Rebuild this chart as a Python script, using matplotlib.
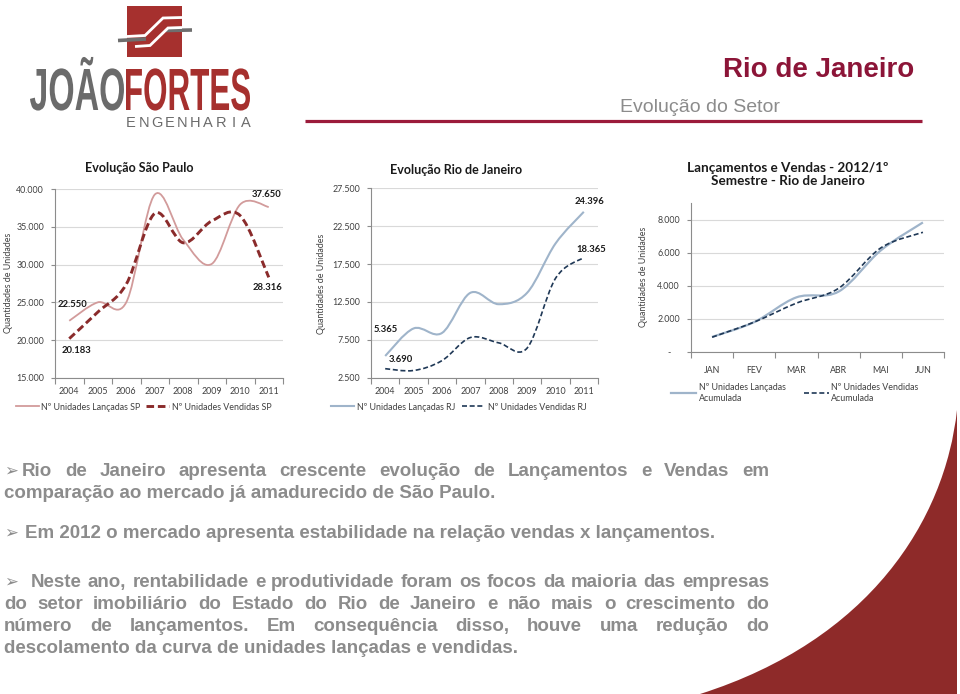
import matplotlib
matplotlib.use("Agg")
import matplotlib.pyplot as plt
import numpy as np
from matplotlib.path import Path
from matplotlib.patches import PathPatch, Rectangle
from matplotlib.lines import Line2D
from matplotlib.textpath import TextPath
from matplotlib.font_manager import FontProperties

# ---------------- data ----------------
years = ['2004', '2005', '2006', '2007', '2008', '2009', '2010', '2011']
sp_lancadas = [22550, 25000, 25000, 39300, 33300, 30100, 38000, 37650]
sp_vendidas = [20183, 23700, 27400, 36800, 32900, 35800, 36500, 28316]
rj_lancadas = [5365, 9000, 8400, 13700, 12200, 13700, 20200, 24396]
rj_vendidas = [3690, 3450, 4750, 7800, 7100, 6400, 15600, 18365]
months = ['JAN', 'FEV', 'MAR', 'ABR', 'MAI', 'JUN']
rj12_lancadas = [900, 1800, 3300, 3650, 6150, 7850]
rj12_vendidas = [880, 1800, 2950, 3850, 6300, 7250]

sp_yticks = [15000, 20000, 25000, 30000, 35000, 40000]
rj_yticks = [2500, 7500, 12500, 17500, 22500, 27500]
rj12_yticks = [0, 2000, 4000, 6000, 8000]

title_main = 'Rio de Janeiro'
subtitle = 'Evolução do Setor'
chart_titles = ['Evolução São Paulo', 'Evolução Rio de Janeiro',
                'Lançamentos e Vendas - 2012/1º\nSemestre - Rio de Janeiro']
ylabel = 'Quantidades de Unidades'
legend_sp = ['Nº Unidades Lançadas SP', 'Nº Unidades Vendidas SP']
legend_rj = ['Nº Unidades Lançadas RJ', 'Nº Unidades Vendidas RJ']
legend_12 = ['Nº Unidades Lançadas\nAcumulada', 'Nº Unidades Vendidas\nAcumulada']

paragraphs = [
    [("Rio de Janeiro apresenta crescente evolução de Lançamentos e Vendas em", True, 22, 476),
     ("comparação ao mercado já amadurecido de São Paulo.", False, 4, 497.5)],
    [("Em 2012 o mercado apresenta estabilidade na relação vendas x lançamentos.", False, 25, 538)],
    [("Neste ano, rentabilidade e produtividade foram os focos da maioria das empresas", True, 31, 587),
     ("do setor imobiliário do Estado do Rio de Janeiro e não mais o crescimento do", True, 4, 609),
     ("número de lançamentos. Em consequência disso, houve uma redução do", True, 4, 631),
     ("descolamento da curva de unidades lançadas e vendidas.", False, 4, 653)],
]

# ---------------- setup ----------------
W, H = 960, 694
plt.rcParams['font.family'] = ['Lato', 'DejaVu Sans']
fig = plt.figure(figsize=(W / 100, H / 100), dpi=100)
fig.patch.set_facecolor('white')
renderer = fig.canvas.get_renderer()


def rect(x0, y0, x1, y1):
    return [x0 / W, 1 - y1 / H, (x1 - x0) / W, (y1 - y0) / H]


def fmt_br(v):
    if v == 0:
        return '-    '
    return f"{v:,.0f}".replace(',', '.')


ax_bg = fig.add_axes([0, 0, 1, 1], zorder=-1)
ax_bg.set_xlim(0, W)
ax_bg.set_ylim(H, 0)
ax_bg.axis('off')

# ---------------- header / logo ----------------
LOGO_RED = '#A6302E'
LOGO_GREY = '#6B6B6B'
ax_bg.add_patch(Rectangle((127, 6), 55, 51, color=LOGO_RED, lw=0))
# grey shadows
ax_bg.plot([118, 146], [40.5, 39], color='#6E6E6E', lw=2.6, solid_capstyle='butt')
ax_bg.plot([166, 192], [30.5, 30], color='#6E6E6E', lw=2.6, solid_capstyle='butt')
# white strokes
ax_bg.plot([127, 145, 163, 182], [36.5, 35.5, 18, 17.5], color='white', lw=2.0,
           solid_capstyle='butt', solid_joinstyle='miter')
ax_bg.plot([135, 150, 168, 182], [46.5, 45.5, 28, 27.5], color='white', lw=2.0,
           solid_capstyle='butt', solid_joinstyle='miter')


def fit_text(ax, s, x0, x1, ybase, ycap, color, prop):
    tp = TextPath((0, 0), s, prop=prop, size=50)
    capref = TextPath((0, 0), 'H', prop=prop, size=50).get_extents()
    ext = tp.get_extents()
    sx = (x1 - x0) / ext.width
    sy = (ybase - ycap) / capref.height
    v = tp.vertices.copy()
    v[:, 0] = x0 + (v[:, 0] - ext.x0) * sx
    v[:, 1] = ybase - v[:, 1] * sy
    ax.add_patch(PathPatch(Path(v, tp.codes), color=color, lw=0))


fp_logo = FontProperties(family='Liberation Sans', weight='bold')
fit_text(ax_bg, 'JOÃO', 30, 124, 110, 69, LOGO_GREY, fp_logo)
fit_text(ax_bg, 'FORTES', 126, 250, 110, 69, LOGO_RED, fp_logo)
for i, ch in enumerate('ENGENHARIA'):
    ax_bg.text(131 + i * 12.8, 127, ch, ha='center', va='baseline', fontsize=10.5,
               family='Liberation Sans', color=LOGO_GREY)

ax_bg.text(914, 77, title_main, ha='right', va='baseline', fontsize=20,
           family='Liberation Sans', weight='bold', color='#8C1538')
ax_bg.text(620, 112, subtitle, ha='left', va='baseline', fontsize=14,
           family='Liberation Sans', color='#8C8C8C')
ax_bg.plot([305, 922], [121, 121], color='#9B1B3B', lw=2.3, solid_capstyle='butt')

# red corner decoration
deco = Path([(957, 410), (945, 520), (870, 640), (700, 694), (957, 694), (957, 410)],
            [Path.MOVETO, Path.CURVE4, Path.CURVE4, Path.CURVE4, Path.LINETO, Path.CLOSEPOLY])
ax_bg.add_patch(PathPatch(deco, color='#8E2A29', lw=0))

# ---------------- body text ----------------
TXT = '#8C8C8C'
fp_body = FontProperties(family='Liberation Sans', weight='bold', size=12)
probe = ax_bg.text(0, 0, "comparação ao mercado já amadurecido de São Paulo.", fontproperties=fp_body)
wprobe = probe.get_window_extent(renderer).width
probe.remove()
fp_body.set_size(12 * 490 / wprobe)

for para in paragraphs:
    first_y = para[0][3]
    ax_bg.text(4, first_y - 0.5, '➢', family='DejaVu Sans', fontsize=12, color=TXT,
               ha='left', va='baseline')
    for line, justify, x0, yb in para:
        if not justify:
            ax_bg.text(x0, yb, line, fontproperties=fp_body, color=TXT, ha='left', va='baseline')
            continue
        words = line.split(' ')
        texts = [ax_bg.text(0, yb, w, fontproperties=fp_body, color=TXT, ha='left', va='baseline')
                 for w in words]
        widths = [t.get_window_extent(renderer).width for t in texts]
        gap = (769 - x0 - sum(widths)) / (len(words) - 1)
        x = x0
        for t, w in zip(texts, widths):
            t.set_x(x)
            x += w + gap

# ---------------- charts ----------------
AX_COL = '#8C8C8C'
LBL = '#404040'
FS = 6.4


def smooth_patch(ax, xs, ys, **kw):
    pts = list(zip(xs, ys))
    n = len(pts)
    verts = [pts[0]]
    codes = [Path.MOVETO]
    for i in range(n - 1):
        p0 = pts[i - 1] if i > 0 else pts[i]
        p1 = pts[i]
        p2 = pts[i + 1]
        p3 = pts[i + 2] if i + 2 < n else pts[i + 1]
        c1 = (p1[0] + (p2[0] - p0[0]) / 6, p1[1] + (p2[1] - p0[1]) / 6)
        c2 = (p2[0] - (p3[0] - p1[0]) / 6, p2[1] - (p3[1] - p1[1]) / 6)
        verts += [c1, c2, p2]
        codes += [Path.CURVE4] * 3
    patch = PathPatch(Path(verts, codes), fill=False, transform=ax.transData,
                      capstyle='butt', joinstyle='round', **kw)
    ax.add_patch(patch)


def style(ax, cats, ylim, yticks):
    n = len(cats)
    ax.set_facecolor('none')
    ax.set_xlim(-0.5, n - 0.5)
    ax.set_ylim(*ylim)
    ax.set_yticks(yticks)
    ax.set_yticklabels([fmt_br(v) for v in yticks])
    ax.set_xticks(np.arange(-0.5, n))
    ax.set_xticks(np.arange(n), labels=cats, minor=True)
    ax.tick_params(axis='x', which='major', length=4, width=0.8, color=AX_COL, labelbottom=False)
    ax.tick_params(axis='x', which='minor', length=0, pad=7, labelsize=FS, labelcolor=LBL)
    ax.tick_params(axis='y', length=3, width=0.8, color=AX_COL, pad=5, labelsize=FS, labelcolor=LBL)
    for s in ['top', 'right']:
        ax.spines[s].set_visible(False)
    for s in ['left', 'bottom']:
        ax.spines[s].set_color(AX_COL)
        ax.spines[s].set_linewidth(0.8)
    ax.grid(axis='y', which='major', color='#D9D9D9', lw=0.8)
    ax.set_axisbelow(True)


def dlabel(ax, x, v, dx, dy):
    ax.annotate(fmt_br(v), xy=(x, v), xytext=(dx, dy), textcoords='offset pixels',
                ha='center', va='center', fontsize=6.8, weight='bold', color='#1A1A1A',
                annotation_clip=False)


# Chart 1: São Paulo
SP_L, SP_V = '#D29B9B', '#8A2B2B'
ax1 = fig.add_axes(rect(55, 189.3, 283, 377.7))
style(ax1, years, (15000, 40000), sp_yticks)
x1 = np.arange(len(years))
smooth_patch(ax1, x1, sp_lancadas, edgecolor=SP_L, lw=1.3)
smooth_patch(ax1, x1, sp_vendidas, edgecolor=SP_V, lw=2.1, linestyle=(0, (2.6, 1.3)))
dlabel(ax1, 0, sp_lancadas[0], 3, 16)
dlabel(ax1, 0, sp_vendidas[0], 7, -12)
dlabel(ax1, 7, sp_lancadas[-1], -2, 13)
dlabel(ax1, 7, sp_vendidas[-1], -1, -10)
ax1.legend([Line2D([], [], color=SP_L, lw=1.3),
            Line2D([], [], color=SP_V, lw=2.1, linestyle=(0, (2.6, 1.3)))],
           legend_sp, loc='center', bbox_to_anchor=(143.5 / W, 1 - 407 / H),
           bbox_transform=fig.transFigure, ncol=2, frameon=False, fontsize=FS,
           handlelength=2.6, handletextpad=0.3, columnspacing=0.6, labelcolor=LBL)
fig.text(9 / W, 1 - 283 / H, ylabel, rotation=90, ha='center', va='center', fontsize=FS, color=LBL)
fig.text(139 / W, 1 - 168 / H, chart_titles[0], ha='center', va='center', fontsize=9,
         weight='bold', color='#1A1A1A')

# Chart 2: Rio de Janeiro
RJ_L, RJ_V = '#9FB4CA', '#1F3856'
ax2 = fig.add_axes(rect(371, 188.3, 598, 377.7))
style(ax2, years, (2500, 27500), rj_yticks)
smooth_patch(ax2, x1, rj_lancadas, edgecolor=RJ_L, lw=1.5)
smooth_patch(ax2, x1, rj_vendidas, edgecolor=RJ_V, lw=1.2, linestyle=(0, (3, 1.6)))
dlabel(ax2, 0, rj_lancadas[0], 1, 26)
dlabel(ax2, 0, rj_vendidas[0], 16, 9)
dlabel(ax2, 7, rj_lancadas[-1], 6, 10)
dlabel(ax2, 7, rj_vendidas[-1], 7, 8)
ax2.legend([Line2D([], [], color=RJ_L, lw=1.5),
            Line2D([], [], color=RJ_V, lw=1.2, linestyle=(0, (3, 1.6)))],
           legend_rj, loc='center', bbox_to_anchor=(459 / W, 1 - 407 / H),
           bbox_transform=fig.transFigure, ncol=2, frameon=False, fontsize=FS,
           handlelength=2.6, handletextpad=0.3, columnspacing=0.8, labelcolor=LBL)
fig.text(322 / W, 1 - 284 / H, ylabel, rotation=90, ha='center', va='center', fontsize=FS, color=LBL)
fig.text(456 / W, 1 - 170 / H, chart_titles[1], ha='center', va='center', fontsize=9,
         weight='bold', color='#1A1A1A')

# Chart 3: 2012 1º semestre
ax3 = fig.add_axes(rect(691, 203.5, 944, 351.7))
style(ax3, months, (0, 9000), rj12_yticks)
ax3.tick_params(axis='x', which='minor', pad=10)
x3 = np.arange(len(months))
smooth_patch(ax3, x3, rj12_lancadas, edgecolor=RJ_L, lw=1.6)
smooth_patch(ax3, x3, rj12_vendidas, edgecolor=RJ_V, lw=1.2, linestyle=(0, (3, 1.6)))
ax3.legend([Line2D([], [], color=RJ_L, lw=1.6),
            Line2D([], [], color=RJ_V, lw=1.2, linestyle=(0, (3, 1.6)))],
           legend_12, loc='center', bbox_to_anchor=(795 / W, 1 - 393 / H),
           bbox_transform=fig.transFigure, ncol=2, frameon=False, fontsize=FS,
           handlelength=2.8, handletextpad=0.3, columnspacing=2.0, labelcolor=LBL)
fig.text(643 / W, 1 - 277 / H, ylabel, rotation=90, ha='center', va='center', fontsize=FS, color=LBL)
fig.text(788 / W, 1 - 174.5 / H, chart_titles[2], ha='center', va='center', fontsize=9.7,
         weight='bold', color='#1A1A1A', linespacing=1.15)

fig.savefig('out.png', dpi=100)
